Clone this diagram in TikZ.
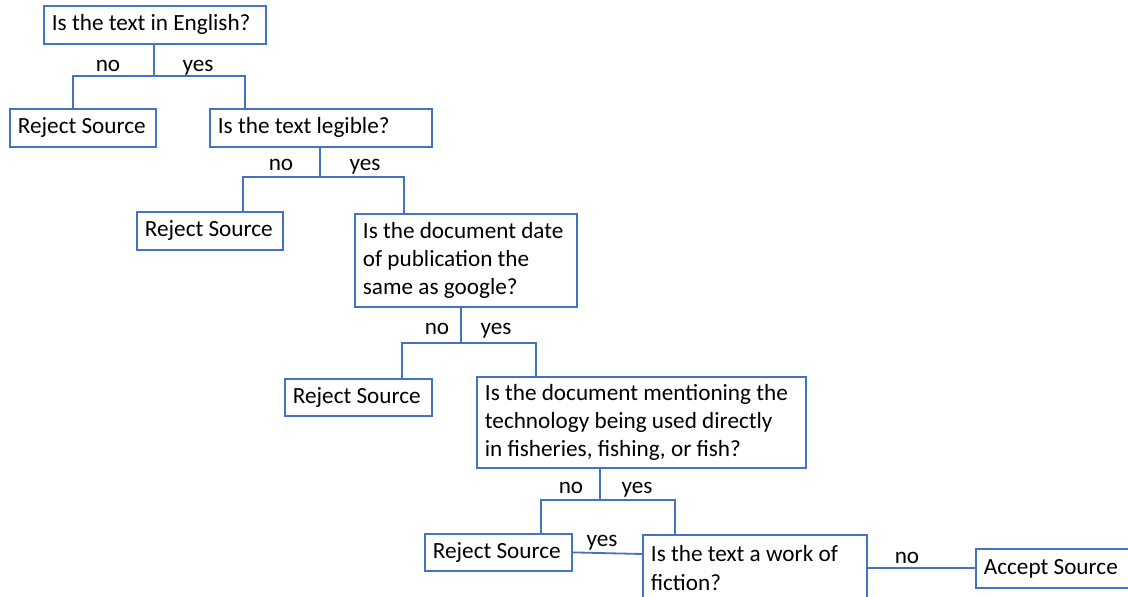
\documentclass[tikz,border=0pt]{standalone}
\usepackage{fontspec}
\setmainfont{Carlito}
\usepackage{tikz}
\definecolor{main}{RGB}{68,114,196}
\tikzset{
  qbox/.style={draw=main, line width=0.9pt, anchor=north west, align=flush left,
    inner xsep=4pt, inner ysep=0pt, font=\fontsize{11.6}{14.2}\selectfont},
  link/.style={draw=main, line width=0.9pt},
  lbl/.style={anchor=base, inner sep=0pt, font=\fontsize{11.6}{14.2}\selectfont}
}

\begin{document}
\begin{tikzpicture}[x=0.5pt, y=-0.5pt]
		\useasboundingbox (0,0) rectangle (1128,597);
		% boxes
		\node[qbox, text width=103pt, minimum height=19pt] (q1) at (43,5) {Is the text in English?};
		\node[qbox, text width=65pt, minimum height=19pt] (r1) at (9,108) {Reject Source};
		\node[qbox, text width=103pt, minimum height=19pt] (q2) at (209,108) {Is the text legible?};
		\node[qbox, text width=65pt, minimum height=19pt] (r2) at (136,211) {Reject Source};
		\node[qbox, text width=103pt, minimum height=46.5pt] (q3) at (354,213) {Is the document date\\of publication the\\same as google?};
		\node[qbox, text width=65.5pt, minimum height=18.5pt] (r3) at (284,378) {Reject Source};
		\node[qbox, text width=156.5pt, minimum height=45.5pt] (q4) at (476,376) {Is the document mentioning the\\technology being used directly\\in fisheries, fishing, or fish?};
		\node[qbox, text width=65.5pt, minimum height=18.5pt] (r4) at (424,533) {Reject Source};
		\node[qbox, text width=104pt, minimum height=33pt] (q5) at (642,534) {Is the text a work of\\fiction?};
		\node[qbox, text width=70pt, minimum height=19.5pt] (acc) at (975,548) {Accept Source};
		
		% branch points
		\coordinate (t1) at (154,76);
		\coordinate (a1) at (73,76);
		\coordinate (b1) at (245,76);
		\coordinate (t2) at (320,177);
		\coordinate (a2) at (243,177);
		\coordinate (b2) at (404,177);
		\coordinate (t3) at (461,343);
		\coordinate (a3) at (402,343);
		\coordinate (b3) at (536,343);
		\coordinate (t4) at (600,500);
		\coordinate (a4) at (541,500);
		\coordinate (b4) at (675,500);
		
		% connectors
		\draw[link] (t1 |- q1.south) -- (t1);
		\draw[link] (a1 |- r1.north) -- (a1) -- (b1) -- (b1 |- q2.north);
		\draw[link] (t2 |- q2.south) -- (t2);
		\draw[link] (a2 |- r2.north) -- (a2) -- (b2) -- (b2 |- q3.north);
		\draw[link] (t3 |- q3.south) -- (t3);
		\draw[link] (a3 |- r3.north) -- (a3) -- (b3) -- (b3 |- q4.north);
		\draw[link] (t4 |- q4.south) -- (t4);
		\draw[link] (a4 |- r4.north) -- (a4) -- (b4) -- (b4 |- q5.north);
		\draw[link] (r4.east) -- ([yshift=-10pt]q5.north west);
		\draw[link] (q5.east) -- (q5.east -| acc.west);
		
		% labels
		\node[lbl] (n1) at (108,72) {no};
		\node[lbl] (y1) at (198,72) {yes};
		\node[lbl] (n2) at (281,171) {no};
		\node[lbl] (y2) at (365,171) {yes};
		\node[lbl] (n3) at (437,335) {no};
		\node[lbl] (y3) at (496,335) {yes};
		\node[lbl] (n4) at (571,494) {no};
		\node[lbl] (y4) at (637,494) {yes};
		\node[lbl] (y5) at (602,546) {yes};
		\node[lbl] (n5) at (907,563) {no};
	\end{tikzpicture}
\end{document}
